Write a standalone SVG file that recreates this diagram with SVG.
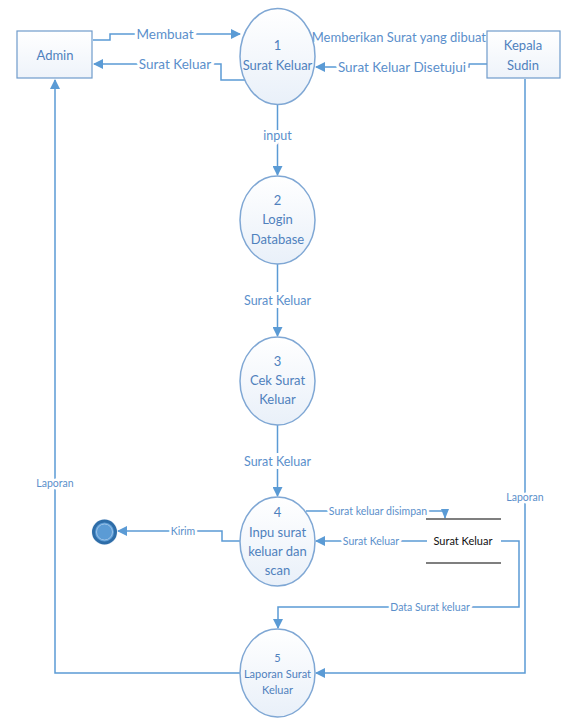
<svg xmlns="http://www.w3.org/2000/svg" width="564" height="718" viewBox="0 0 564 718">
<style>
.ln{fill:none;stroke:#5B9BD5;stroke-width:1.5}
.proc{fill:url(#g);stroke:#7FA7D4;stroke-width:1.5}
.ent{fill:url(#g2);stroke:#6F9BCB;stroke-width:1.2}
.nt{font-family:Lato,"Liberation Sans",sans-serif;font-size:13px;fill:#4F81BD;text-anchor:middle}
.lb{font-family:Lato,"Liberation Sans",sans-serif;font-size:12.5px;fill:#5B8FCB;text-anchor:middle;stroke:#fff;stroke-width:6;paint-order:stroke;stroke-linejoin:round}
.tp{font-size:13.5px}
.sm{font-family:Lato,"Liberation Sans",sans-serif;font-size:10.5px;fill:#5B8FCB;text-anchor:middle;stroke:#fff;stroke-width:5;paint-order:stroke;stroke-linejoin:round}
</style>
<defs>
<linearGradient id="g" x1="0" y1="0" x2="0" y2="1"><stop offset="0" stop-color="#ffffff"/><stop offset="1" stop-color="#E9F0F9"/></linearGradient>
<linearGradient id="g2" x1="0" y1="0" x2="0" y2="1"><stop offset="0" stop-color="#ffffff"/><stop offset="1" stop-color="#EEF3FA"/></linearGradient>
<marker id="ah" markerWidth="10" markerHeight="10" refX="9" refY="5" orient="auto" markerUnits="userSpaceOnUse"><path d="M0,0 L10,5 L0,10 z" fill="#5B9BD5"/></marker>
<marker id="ah2" markerWidth="10" markerHeight="10" refX="9" refY="5" orient="auto" markerUnits="userSpaceOnUse"><path d="M0,1 L10,5 L0,9 z" fill="#5B9BD5"/></marker>
</defs>
<rect width="564" height="718" fill="#fff"/>
<g id="connectors">
<path class="ln" d="M93,40 H110 V34 H240" marker-end="url(#ah)"/>
<path class="ln" d="M245,80 H221 V64 H94" marker-end="url(#ah)"/>
<path class="ln" d="M487,64 H469 V67 H316" marker-end="url(#ah)"/>
<path class="ln" d="M277.5,105 V175" marker-end="url(#ah)"/>
<path class="ln" d="M277.5,264 V336" marker-end="url(#ah)"/>
<path class="ln" d="M277.5,425 V496" marker-end="url(#ah)"/>
<path class="ln" d="M306,511 H445 V518" marker-end="url(#ah2)"/>
<path class="ln" d="M427,541 H316" marker-end="url(#ah)"/>
<path class="ln" d="M501,541 H519 V607 H278 V628" marker-end="url(#ah)"/>
<path class="ln" d="M525,79 V673 H316" marker-end="url(#ah)"/>
<path class="ln" d="M240,673 H55 V80" marker-end="url(#ah)"/>
<path class="ln" d="M240,541 H222 V531 H118" marker-end="url(#ah)"/>
<text class="lb tp" x="165" y="38.5">Membuat</text>
<text class="lb tp" x="175" y="68.5">Surat Keluar</text>
<text class="lb" x="486" y="41.5" style="text-anchor:end;font-size:13px;stroke-width:3">Memberikan Surat yang dibuat</text>
<text class="lb tp" x="402" y="71.5">Surat Keluar Disetujui</text>
<text class="lb" x="277.5" y="140">input</text>
<text class="lb" x="277.5" y="305">Surat Keluar</text>
<text class="lb" x="277.5" y="466">Surat Keluar</text>
<text class="sm" x="378" y="514.5">Surat keluar disimpan</text>
<text class="sm" x="371" y="544.5">Surat Keluar</text>
<text class="sm" x="430" y="610.5">Data Surat keluar</text>
<text class="sm" x="525" y="500.5">Laporan</text>
<text class="sm" x="55" y="486.5">Laporan</text>
<text class="sm" x="183" y="534.5">Kirim</text>
</g>
<g id="admin">
<rect class="ent" x="17" y="31" width="75" height="47"/>
<text class="nt" x="55" y="60">Admin</text>
</g>
<g id="kepala">
<rect class="ent" x="487" y="31" width="73" height="47"/>
<text class="nt" x="523" y="50">Kepala</text>
<text class="nt" x="523" y="70">Sudin</text>
</g>
<g id="p1">
<ellipse class="proc" cx="277.5" cy="56.5" rx="37.5" ry="48"/>
<text class="nt" x="277.5" y="50">1</text>
<text class="nt" x="277.5" y="70">Surat Keluar</text>
</g>
<g id="p2">
<ellipse class="proc" cx="277.5" cy="220" rx="37.5" ry="44"/>
<text class="nt" x="277.5" y="205">2</text>
<text class="nt" x="277.5" y="224">Login</text>
<text class="nt" x="277.5" y="244">Database</text>
</g>
<g id="p3">
<ellipse class="proc" cx="277.5" cy="381" rx="37.5" ry="44"/>
<text class="nt" x="277.5" y="366">3</text>
<text class="nt" x="277.5" y="385">Cek Surat</text>
<text class="nt" x="277.5" y="404">Keluar</text>
</g>
<g id="p4">
<ellipse class="proc" cx="277.5" cy="541.5" rx="37.5" ry="44.5"/>
<text class="nt" x="277.5" y="517">4</text>
<text class="nt" x="277.5" y="537">Inpu surat</text>
<text class="nt" x="277.5" y="556">keluar dan</text>
<text class="nt" x="277.5" y="575">scan</text>
</g>
<g id="p5">
<ellipse class="proc" cx="277.5" cy="673" rx="37.5" ry="44"/>
<text class="nt" x="277.5" y="662" style="font-size:11px">5</text>
<text class="nt" x="277.5" y="678" style="font-size:11px">Laporan Surat</text>
<text class="nt" x="277.5" y="694" style="font-size:11px">Keluar</text>
</g>
<g id="store">
<line x1="426" y1="519" x2="501" y2="519" stroke="#555" stroke-width="1.5"/>
<line x1="426" y1="563" x2="501" y2="563" stroke="#555" stroke-width="1.5"/>
<text x="463" y="545" style="font-family:Lato,'Liberation Sans',sans-serif;font-size:11px;fill:#111;text-anchor:middle">Surat Keluar</text>
</g>
<g id="end">
<circle cx="104.5" cy="532" r="13" fill="#D5E3F2" opacity="0.6"/>
<circle cx="104.5" cy="532" r="11" fill="#5B9BD5" stroke="#2E6DA8" stroke-width="3"/>
<circle cx="104.5" cy="532" r="8" fill="none" stroke="#9CC3E8" stroke-width="1"/>
</g>
</svg>
